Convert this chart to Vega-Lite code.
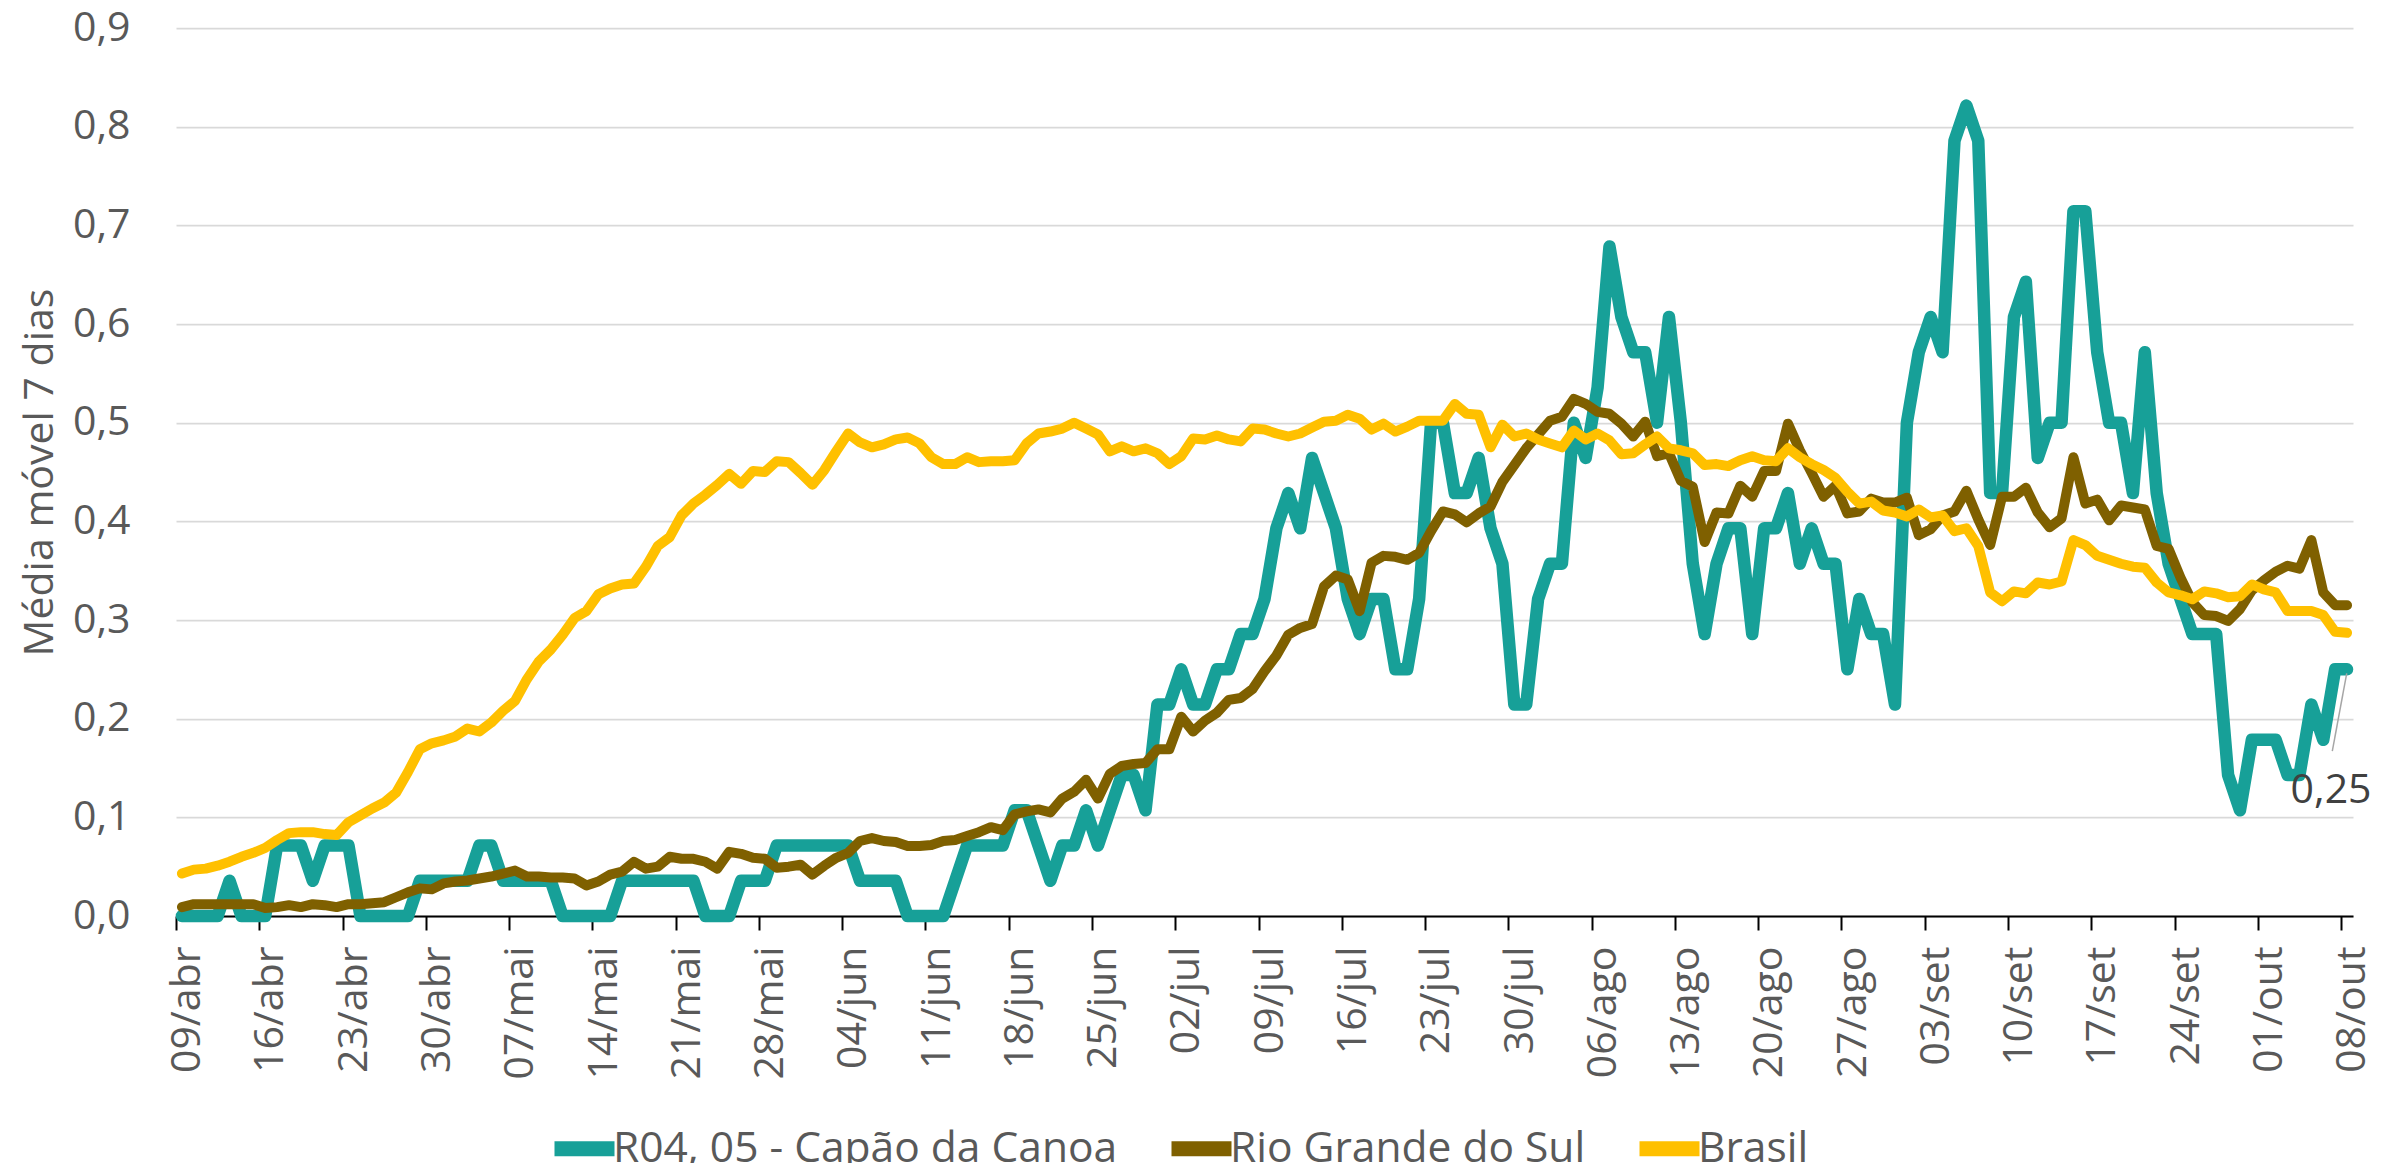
{
"$schema": "https://vega.github.io/schema/vega-lite/v6.json",
"width": 2177,
"height": 888,
"autosize": {"type": "none"},
"padding": {"left": 176, "top": 28, "right": 39, "bottom": 247},
"background": "white",
"config": {
  "view": {"stroke": null},
  "font": "Open Sans",
  "locale": {
    "number": {"decimal": ",", "thousands": ".", "grouping": [3], "currency": ["R$", ""]},
    "time": {"dateTime": "%A, %e de %B de %Y. %X", "date": "%d/%m/%Y", "time": "%H:%M:%S", "periods": ["AM", "PM"],
      "days": ["Domingo", "Segunda", "Terça", "Quarta", "Quinta", "Sexta", "Sábado"],
      "shortDays": ["Dom", "Seg", "Ter", "Qua", "Qui", "Sex", "Sáb"],
      "months": ["Janeiro", "Fevereiro", "Março", "Abril", "Maio", "Junho", "Julho", "Agosto", "Setembro", "Outubro", "Novembro", "Dezembro"],
      "shortMonths": ["jan", "fev", "mar", "abr", "mai", "jun", "jul", "ago", "set", "out", "nov", "dez"]}
  }
},
"datasets": {
"capao": [
{"d":"2020-04-09","v":0},{"d":"2020-04-10","v":0},{"d":"2020-04-11","v":0},{"d":"2020-04-12","v":0},{"d":"2020-04-13","v":0.0357},{"d":"2020-04-14","v":0},{"d":"2020-04-15","v":0},{"d":"2020-04-16","v":0},{"d":"2020-04-17","v":0.0714},{"d":"2020-04-18","v":0.0714},{"d":"2020-04-19","v":0.0714},{"d":"2020-04-20","v":0.0357},{"d":"2020-04-21","v":0.0714},{"d":"2020-04-22","v":0.0714},{"d":"2020-04-23","v":0.0714},{"d":"2020-04-24","v":0},{"d":"2020-04-25","v":0},{"d":"2020-04-26","v":0},{"d":"2020-04-27","v":0},{"d":"2020-04-28","v":0},{"d":"2020-04-29","v":0.0357},{"d":"2020-04-30","v":0.0357},
{"d":"2020-05-01","v":0.0357},{"d":"2020-05-02","v":0.0357},{"d":"2020-05-03","v":0.0357},{"d":"2020-05-04","v":0.0714},{"d":"2020-05-05","v":0.0714},{"d":"2020-05-06","v":0.0357},{"d":"2020-05-07","v":0.0357},{"d":"2020-05-08","v":0.0357},{"d":"2020-05-09","v":0.0357},{"d":"2020-05-10","v":0.0357},{"d":"2020-05-11","v":0},{"d":"2020-05-12","v":0},{"d":"2020-05-13","v":0},{"d":"2020-05-14","v":0},{"d":"2020-05-15","v":0},{"d":"2020-05-16","v":0.0357},{"d":"2020-05-17","v":0.0357},{"d":"2020-05-18","v":0.0357},{"d":"2020-05-19","v":0.0357},{"d":"2020-05-20","v":0.0357},{"d":"2020-05-21","v":0.0357},{"d":"2020-05-22","v":0.0357},{"d":"2020-05-23","v":0},{"d":"2020-05-24","v":0},{"d":"2020-05-25","v":0},{"d":"2020-05-26","v":0.0357},{"d":"2020-05-27","v":0.0357},{"d":"2020-05-28","v":0.0357},{"d":"2020-05-29","v":0.0714},{"d":"2020-05-30","v":0.0714},{"d":"2020-05-31","v":0.0714},
{"d":"2020-06-01","v":0.0714},{"d":"2020-06-02","v":0.0714},{"d":"2020-06-03","v":0.0714},{"d":"2020-06-04","v":0.0714},{"d":"2020-06-05","v":0.0357},{"d":"2020-06-06","v":0.0357},{"d":"2020-06-07","v":0.0357},{"d":"2020-06-08","v":0.0357},{"d":"2020-06-09","v":0},{"d":"2020-06-10","v":0},{"d":"2020-06-11","v":0},{"d":"2020-06-12","v":0},{"d":"2020-06-13","v":0.0357},{"d":"2020-06-14","v":0.0714},{"d":"2020-06-15","v":0.0714},{"d":"2020-06-16","v":0.0714},{"d":"2020-06-17","v":0.0714},{"d":"2020-06-18","v":0.1071},{"d":"2020-06-19","v":0.1071},{"d":"2020-06-20","v":0.0714},{"d":"2020-06-21","v":0.0357},{"d":"2020-06-22","v":0.0714},{"d":"2020-06-23","v":0.0714},{"d":"2020-06-24","v":0.1071},{"d":"2020-06-25","v":0.0714},{"d":"2020-06-26","v":0.1071},{"d":"2020-06-27","v":0.1429},{"d":"2020-06-28","v":0.1429},{"d":"2020-06-29","v":0.1071},{"d":"2020-06-30","v":0.2143},
{"d":"2020-07-01","v":0.2143},{"d":"2020-07-02","v":0.25},{"d":"2020-07-03","v":0.2143},{"d":"2020-07-04","v":0.2143},{"d":"2020-07-05","v":0.25},{"d":"2020-07-06","v":0.25},{"d":"2020-07-07","v":0.2857},{"d":"2020-07-08","v":0.2857},{"d":"2020-07-09","v":0.3214},{"d":"2020-07-10","v":0.3929},{"d":"2020-07-11","v":0.4286},{"d":"2020-07-12","v":0.3929},{"d":"2020-07-13","v":0.4643},{"d":"2020-07-14","v":0.4286},{"d":"2020-07-15","v":0.3929},{"d":"2020-07-16","v":0.3214},{"d":"2020-07-17","v":0.2857},{"d":"2020-07-18","v":0.3214},{"d":"2020-07-19","v":0.3214},{"d":"2020-07-20","v":0.25},{"d":"2020-07-21","v":0.25},{"d":"2020-07-22","v":0.3214},{"d":"2020-07-23","v":0.5},{"d":"2020-07-24","v":0.5},{"d":"2020-07-25","v":0.4286},{"d":"2020-07-26","v":0.4286},{"d":"2020-07-27","v":0.4643},{"d":"2020-07-28","v":0.3929},{"d":"2020-07-29","v":0.3571},{"d":"2020-07-30","v":0.2143},{"d":"2020-07-31","v":0.2143},
{"d":"2020-08-01","v":0.3214},{"d":"2020-08-02","v":0.3571},{"d":"2020-08-03","v":0.3571},{"d":"2020-08-04","v":0.5},{"d":"2020-08-05","v":0.4643},{"d":"2020-08-06","v":0.5357},{"d":"2020-08-07","v":0.6786},{"d":"2020-08-08","v":0.6071},{"d":"2020-08-09","v":0.5714},{"d":"2020-08-10","v":0.5714},{"d":"2020-08-11","v":0.5},{"d":"2020-08-12","v":0.6071},{"d":"2020-08-13","v":0.5},{"d":"2020-08-14","v":0.3571},{"d":"2020-08-15","v":0.2857},{"d":"2020-08-16","v":0.3571},{"d":"2020-08-17","v":0.3929},{"d":"2020-08-18","v":0.3929},{"d":"2020-08-19","v":0.2857},{"d":"2020-08-20","v":0.3929},{"d":"2020-08-21","v":0.3929},{"d":"2020-08-22","v":0.4286},{"d":"2020-08-23","v":0.3571},{"d":"2020-08-24","v":0.3929},{"d":"2020-08-25","v":0.3571},{"d":"2020-08-26","v":0.3571},{"d":"2020-08-27","v":0.25},{"d":"2020-08-28","v":0.3214},{"d":"2020-08-29","v":0.2857},{"d":"2020-08-30","v":0.2857},{"d":"2020-08-31","v":0.2143},
{"d":"2020-09-01","v":0.5},{"d":"2020-09-02","v":0.5714},{"d":"2020-09-03","v":0.6071},{"d":"2020-09-04","v":0.5714},{"d":"2020-09-05","v":0.7857},{"d":"2020-09-06","v":0.8214},{"d":"2020-09-07","v":0.7857},{"d":"2020-09-08","v":0.4286},{"d":"2020-09-09","v":0.4286},{"d":"2020-09-10","v":0.6071},{"d":"2020-09-11","v":0.6429},{"d":"2020-09-12","v":0.4643},{"d":"2020-09-13","v":0.5},{"d":"2020-09-14","v":0.5},{"d":"2020-09-15","v":0.7143},{"d":"2020-09-16","v":0.7143},{"d":"2020-09-17","v":0.5714},{"d":"2020-09-18","v":0.5},{"d":"2020-09-19","v":0.5},{"d":"2020-09-20","v":0.4286},{"d":"2020-09-21","v":0.5714},{"d":"2020-09-22","v":0.4286},{"d":"2020-09-23","v":0.3571},{"d":"2020-09-24","v":0.3214},{"d":"2020-09-25","v":0.2857},{"d":"2020-09-26","v":0.2857},{"d":"2020-09-27","v":0.2857},{"d":"2020-09-28","v":0.1429},{"d":"2020-09-29","v":0.1071},{"d":"2020-09-30","v":0.1786},
{"d":"2020-10-01","v":0.1786},{"d":"2020-10-02","v":0.1786},{"d":"2020-10-03","v":0.1429},{"d":"2020-10-04","v":0.1429},{"d":"2020-10-05","v":0.2143},{"d":"2020-10-06","v":0.1786},{"d":"2020-10-07","v":0.25},{"d":"2020-10-08","v":0.25}
],
"rs": [
{"d":"2020-04-09","v":0.009},{"d":"2020-04-10","v":0.012},{"d":"2020-04-11","v":0.012},{"d":"2020-04-12","v":0.012},{"d":"2020-04-13","v":0.012},{"d":"2020-04-14","v":0.012},{"d":"2020-04-15","v":0.012},{"d":"2020-04-16","v":0.008},{"d":"2020-04-17","v":0.009},{"d":"2020-04-18","v":0.011},{"d":"2020-04-19","v":0.009},{"d":"2020-04-20","v":0.012},{"d":"2020-04-21","v":0.011},{"d":"2020-04-22","v":0.009},{"d":"2020-04-23","v":0.012},{"d":"2020-04-24","v":0.012},{"d":"2020-04-25","v":0.013},{"d":"2020-04-26","v":0.014},{"d":"2020-04-27","v":0.019},{"d":"2020-04-28","v":0.024},{"d":"2020-04-29","v":0.028},{"d":"2020-04-30","v":0.027},
{"d":"2020-05-01","v":0.033},{"d":"2020-05-02","v":0.035},{"d":"2020-05-03","v":0.036},{"d":"2020-05-04","v":0.038},{"d":"2020-05-05","v":0.040},{"d":"2020-05-06","v":0.043},{"d":"2020-05-07","v":0.046},{"d":"2020-05-08","v":0.040},{"d":"2020-05-09","v":0.040},{"d":"2020-05-10","v":0.039},{"d":"2020-05-11","v":0.039},{"d":"2020-05-12","v":0.038},{"d":"2020-05-13","v":0.031},{"d":"2020-05-14","v":0.035},{"d":"2020-05-15","v":0.042},{"d":"2020-05-16","v":0.045},{"d":"2020-05-17","v":0.055},{"d":"2020-05-18","v":0.048},{"d":"2020-05-19","v":0.050},{"d":"2020-05-20","v":0.060},{"d":"2020-05-21","v":0.058},{"d":"2020-05-22","v":0.058},{"d":"2020-05-23","v":0.055},{"d":"2020-05-24","v":0.048},{"d":"2020-05-25","v":0.065},{"d":"2020-05-26","v":0.063},{"d":"2020-05-27","v":0.059},{"d":"2020-05-28","v":0.058},{"d":"2020-05-29","v":0.049},{"d":"2020-05-30","v":0.050},{"d":"2020-05-31","v":0.052},
{"d":"2020-06-01","v":0.042},{"d":"2020-06-02","v":0.051},{"d":"2020-06-03","v":0.059},{"d":"2020-06-04","v":0.064},{"d":"2020-06-05","v":0.076},{"d":"2020-06-06","v":0.079},{"d":"2020-06-07","v":0.076},{"d":"2020-06-08","v":0.075},{"d":"2020-06-09","v":0.071},{"d":"2020-06-10","v":0.071},{"d":"2020-06-11","v":0.072},{"d":"2020-06-12","v":0.076},{"d":"2020-06-13","v":0.077},{"d":"2020-06-14","v":0.081},{"d":"2020-06-15","v":0.085},{"d":"2020-06-16","v":0.090},{"d":"2020-06-17","v":0.087},{"d":"2020-06-18","v":0.103},{"d":"2020-06-19","v":0.106},{"d":"2020-06-20","v":0.108},{"d":"2020-06-21","v":0.105},{"d":"2020-06-22","v":0.119},{"d":"2020-06-23","v":0.126},{"d":"2020-06-24","v":0.138},{"d":"2020-06-25","v":0.119},{"d":"2020-06-26","v":0.144},{"d":"2020-06-27","v":0.152},{"d":"2020-06-28","v":0.154},{"d":"2020-06-29","v":0.155},{"d":"2020-06-30","v":0.169},
{"d":"2020-07-01","v":0.169},{"d":"2020-07-02","v":0.202},{"d":"2020-07-03","v":0.187},{"d":"2020-07-04","v":0.198},{"d":"2020-07-05","v":0.206},{"d":"2020-07-06","v":0.219},{"d":"2020-07-07","v":0.221},{"d":"2020-07-08","v":0.230},{"d":"2020-07-09","v":0.248},{"d":"2020-07-10","v":0.264},{"d":"2020-07-11","v":0.285},{"d":"2020-07-12","v":0.292},{"d":"2020-07-13","v":0.296},{"d":"2020-07-14","v":0.334},{"d":"2020-07-15","v":0.345},{"d":"2020-07-16","v":0.341},{"d":"2020-07-17","v":0.309},{"d":"2020-07-18","v":0.358},{"d":"2020-07-19","v":0.365},{"d":"2020-07-20","v":0.364},{"d":"2020-07-21","v":0.361},{"d":"2020-07-22","v":0.368},{"d":"2020-07-23","v":0.390},{"d":"2020-07-24","v":0.410},{"d":"2020-07-25","v":0.407},{"d":"2020-07-26","v":0.399},{"d":"2020-07-27","v":0.408},{"d":"2020-07-28","v":0.415},{"d":"2020-07-29","v":0.440},{"d":"2020-07-30","v":0.457},{"d":"2020-07-31","v":0.474},
{"d":"2020-08-01","v":0.488},{"d":"2020-08-02","v":0.502},{"d":"2020-08-03","v":0.506},{"d":"2020-08-04","v":0.524},{"d":"2020-08-05","v":0.519},{"d":"2020-08-06","v":0.511},{"d":"2020-08-07","v":0.509},{"d":"2020-08-08","v":0.499},{"d":"2020-08-09","v":0.486},{"d":"2020-08-10","v":0.501},{"d":"2020-08-11","v":0.466},{"d":"2020-08-12","v":0.469},{"d":"2020-08-13","v":0.441},{"d":"2020-08-14","v":0.435},{"d":"2020-08-15","v":0.379},{"d":"2020-08-16","v":0.409},{"d":"2020-08-17","v":0.408},{"d":"2020-08-18","v":0.436},{"d":"2020-08-19","v":0.425},{"d":"2020-08-20","v":0.451},{"d":"2020-08-21","v":0.451},{"d":"2020-08-22","v":0.499},{"d":"2020-08-23","v":0.472},{"d":"2020-08-24","v":0.449},{"d":"2020-08-25","v":0.425},{"d":"2020-08-26","v":0.436},{"d":"2020-08-27","v":0.408},{"d":"2020-08-28","v":0.410},{"d":"2020-08-29","v":0.423},{"d":"2020-08-30","v":0.419},{"d":"2020-08-31","v":0.419},
{"d":"2020-09-01","v":0.424},{"d":"2020-09-02","v":0.386},{"d":"2020-09-03","v":0.392},{"d":"2020-09-04","v":0.406},{"d":"2020-09-05","v":0.410},{"d":"2020-09-06","v":0.431},{"d":"2020-09-07","v":0.402},{"d":"2020-09-08","v":0.376},{"d":"2020-09-09","v":0.425},{"d":"2020-09-10","v":0.425},{"d":"2020-09-11","v":0.434},{"d":"2020-09-12","v":0.409},{"d":"2020-09-13","v":0.394},{"d":"2020-09-14","v":0.403},{"d":"2020-09-15","v":0.465},{"d":"2020-09-16","v":0.418},{"d":"2020-09-17","v":0.422},{"d":"2020-09-18","v":0.401},{"d":"2020-09-19","v":0.416},{"d":"2020-09-20","v":0.414},{"d":"2020-09-21","v":0.412},{"d":"2020-09-22","v":0.375},{"d":"2020-09-23","v":0.372},{"d":"2020-09-24","v":0.343},{"d":"2020-09-25","v":0.318},{"d":"2020-09-26","v":0.305},{"d":"2020-09-27","v":0.304},{"d":"2020-09-28","v":0.299},{"d":"2020-09-29","v":0.311},{"d":"2020-09-30","v":0.330},
{"d":"2020-10-01","v":0.340},{"d":"2020-10-02","v":0.349},{"d":"2020-10-03","v":0.355},{"d":"2020-10-04","v":0.352},{"d":"2020-10-05","v":0.381},{"d":"2020-10-06","v":0.328},{"d":"2020-10-07","v":0.315},{"d":"2020-10-08","v":0.315}
],
"br": [
{"d":"2020-04-09","v":0.043},{"d":"2020-04-10","v":0.047},{"d":"2020-04-11","v":0.048},{"d":"2020-04-12","v":0.051},{"d":"2020-04-13","v":0.055},{"d":"2020-04-14","v":0.060},{"d":"2020-04-15","v":0.064},{"d":"2020-04-16","v":0.069},{"d":"2020-04-17","v":0.077},{"d":"2020-04-18","v":0.084},{"d":"2020-04-19","v":0.085},{"d":"2020-04-20","v":0.085},{"d":"2020-04-21","v":0.083},{"d":"2020-04-22","v":0.082},{"d":"2020-04-23","v":0.095},{"d":"2020-04-24","v":0.102},{"d":"2020-04-25","v":0.109},{"d":"2020-04-26","v":0.115},{"d":"2020-04-27","v":0.125},{"d":"2020-04-28","v":0.146},{"d":"2020-04-29","v":0.169},{"d":"2020-04-30","v":0.175},
{"d":"2020-05-01","v":0.178},{"d":"2020-05-02","v":0.182},{"d":"2020-05-03","v":0.190},{"d":"2020-05-04","v":0.187},{"d":"2020-05-05","v":0.196},{"d":"2020-05-06","v":0.208},{"d":"2020-05-07","v":0.218},{"d":"2020-05-08","v":0.240},{"d":"2020-05-09","v":0.258},{"d":"2020-05-10","v":0.270},{"d":"2020-05-11","v":0.285},{"d":"2020-05-12","v":0.302},{"d":"2020-05-13","v":0.309},{"d":"2020-05-14","v":0.326},{"d":"2020-05-15","v":0.332},{"d":"2020-05-16","v":0.336},{"d":"2020-05-17","v":0.337},{"d":"2020-05-18","v":0.354},{"d":"2020-05-19","v":0.375},{"d":"2020-05-20","v":0.384},{"d":"2020-05-21","v":0.406},{"d":"2020-05-22","v":0.418},{"d":"2020-05-23","v":0.427},{"d":"2020-05-24","v":0.437},{"d":"2020-05-25","v":0.448},{"d":"2020-05-26","v":0.438},{"d":"2020-05-27","v":0.451},{"d":"2020-05-28","v":0.450},{"d":"2020-05-29","v":0.461},{"d":"2020-05-30","v":0.460},{"d":"2020-05-31","v":0.449},
{"d":"2020-06-01","v":0.437},{"d":"2020-06-02","v":0.452},{"d":"2020-06-03","v":0.471},{"d":"2020-06-04","v":0.489},{"d":"2020-06-05","v":0.480},{"d":"2020-06-06","v":0.475},{"d":"2020-06-07","v":0.478},{"d":"2020-06-08","v":0.483},{"d":"2020-06-09","v":0.485},{"d":"2020-06-10","v":0.479},{"d":"2020-06-11","v":0.465},{"d":"2020-06-12","v":0.458},{"d":"2020-06-13","v":0.458},{"d":"2020-06-14","v":0.465},{"d":"2020-06-15","v":0.460},{"d":"2020-06-16","v":0.461},{"d":"2020-06-17","v":0.461},{"d":"2020-06-18","v":0.462},{"d":"2020-06-19","v":0.479},{"d":"2020-06-20","v":0.489},{"d":"2020-06-21","v":0.491},{"d":"2020-06-22","v":0.494},{"d":"2020-06-23","v":0.500},{"d":"2020-06-24","v":0.494},{"d":"2020-06-25","v":0.488},{"d":"2020-06-26","v":0.471},{"d":"2020-06-27","v":0.476},{"d":"2020-06-28","v":0.471},{"d":"2020-06-29","v":0.474},{"d":"2020-06-30","v":0.469},
{"d":"2020-07-01","v":0.458},{"d":"2020-07-02","v":0.466},{"d":"2020-07-03","v":0.484},{"d":"2020-07-04","v":0.483},{"d":"2020-07-05","v":0.487},{"d":"2020-07-06","v":0.483},{"d":"2020-07-07","v":0.481},{"d":"2020-07-08","v":0.494},{"d":"2020-07-09","v":0.493},{"d":"2020-07-10","v":0.489},{"d":"2020-07-11","v":0.486},{"d":"2020-07-12","v":0.489},{"d":"2020-07-13","v":0.495},{"d":"2020-07-14","v":0.501},{"d":"2020-07-15","v":0.502},{"d":"2020-07-16","v":0.508},{"d":"2020-07-17","v":0.504},{"d":"2020-07-18","v":0.493},{"d":"2020-07-19","v":0.499},{"d":"2020-07-20","v":0.491},{"d":"2020-07-21","v":0.496},{"d":"2020-07-22","v":0.502},{"d":"2020-07-23","v":0.502},{"d":"2020-07-24","v":0.502},{"d":"2020-07-25","v":0.519},{"d":"2020-07-26","v":0.509},{"d":"2020-07-27","v":0.508},{"d":"2020-07-28","v":0.475},{"d":"2020-07-29","v":0.498},{"d":"2020-07-30","v":0.486},{"d":"2020-07-31","v":0.489},
{"d":"2020-08-01","v":0.483},{"d":"2020-08-02","v":0.479},{"d":"2020-08-03","v":0.475},{"d":"2020-08-04","v":0.492},{"d":"2020-08-05","v":0.483},{"d":"2020-08-06","v":0.489},{"d":"2020-08-07","v":0.482},{"d":"2020-08-08","v":0.468},{"d":"2020-08-09","v":0.469},{"d":"2020-08-10","v":0.478},{"d":"2020-08-11","v":0.486},{"d":"2020-08-12","v":0.474},{"d":"2020-08-13","v":0.472},{"d":"2020-08-14","v":0.469},{"d":"2020-08-15","v":0.457},{"d":"2020-08-16","v":0.458},{"d":"2020-08-17","v":0.456},{"d":"2020-08-18","v":0.462},{"d":"2020-08-19","v":0.466},{"d":"2020-08-20","v":0.462},{"d":"2020-08-21","v":0.461},{"d":"2020-08-22","v":0.474},{"d":"2020-08-23","v":0.465},{"d":"2020-08-24","v":0.458},{"d":"2020-08-25","v":0.452},{"d":"2020-08-26","v":0.444},{"d":"2020-08-27","v":0.430},{"d":"2020-08-28","v":0.418},{"d":"2020-08-29","v":0.420},{"d":"2020-08-30","v":0.411},{"d":"2020-08-31","v":0.409},
{"d":"2020-09-01","v":0.405},{"d":"2020-09-02","v":0.412},{"d":"2020-09-03","v":0.404},{"d":"2020-09-04","v":0.406},{"d":"2020-09-05","v":0.390},{"d":"2020-09-06","v":0.393},{"d":"2020-09-07","v":0.375},{"d":"2020-09-08","v":0.328},{"d":"2020-09-09","v":0.319},{"d":"2020-09-10","v":0.329},{"d":"2020-09-11","v":0.327},{"d":"2020-09-12","v":0.338},{"d":"2020-09-13","v":0.336},{"d":"2020-09-14","v":0.339},{"d":"2020-09-15","v":0.381},{"d":"2020-09-16","v":0.376},{"d":"2020-09-17","v":0.365},{"d":"2020-09-18","v":0.361},{"d":"2020-09-19","v":0.357},{"d":"2020-09-20","v":0.354},{"d":"2020-09-21","v":0.353},{"d":"2020-09-22","v":0.338},{"d":"2020-09-23","v":0.328},{"d":"2020-09-24","v":0.325},{"d":"2020-09-25","v":0.321},{"d":"2020-09-26","v":0.329},{"d":"2020-09-27","v":0.327},{"d":"2020-09-28","v":0.323},{"d":"2020-09-29","v":0.324},{"d":"2020-09-30","v":0.336},
{"d":"2020-10-01","v":0.331},{"d":"2020-10-02","v":0.328},{"d":"2020-10-03","v":0.309},{"d":"2020-10-04","v":0.309},{"d":"2020-10-05","v":0.309},{"d":"2020-10-06","v":0.305},{"d":"2020-10-07","v":0.288},{"d":"2020-10-08","v":0.287}
],
"leader": [{"d":"2020-10-07T23:20:00Z","v":0.246,"d2":"2020-10-06T18:15:00Z","v2":0.167}]
},
"encoding": {
  "x": {"field": "d", "type": "temporal",
    "scale": {"type": "utc", "domain": [{"year": 2020, "month": "apr", "date": 8, "hours": 12, "utc": true}, {"year": 2020, "month": "oct", "date": 8, "hours": 12, "utc": true}]},
    "axis": {
      "values": [
        {"year": 2020, "month": "apr", "date": 9, "utc": true}, {"year": 2020, "month": "apr", "date": 16, "utc": true}, {"year": 2020, "month": "apr", "date": 23, "utc": true}, {"year": 2020, "month": "apr", "date": 30, "utc": true},
        {"year": 2020, "month": "may", "date": 7, "utc": true}, {"year": 2020, "month": "may", "date": 14, "utc": true}, {"year": 2020, "month": "may", "date": 21, "utc": true}, {"year": 2020, "month": "may", "date": 28, "utc": true},
        {"year": 2020, "month": "jun", "date": 4, "utc": true}, {"year": 2020, "month": "jun", "date": 11, "utc": true}, {"year": 2020, "month": "jun", "date": 18, "utc": true}, {"year": 2020, "month": "jun", "date": 25, "utc": true},
        {"year": 2020, "month": "jul", "date": 2, "utc": true}, {"year": 2020, "month": "jul", "date": 9, "utc": true}, {"year": 2020, "month": "jul", "date": 16, "utc": true}, {"year": 2020, "month": "jul", "date": 23, "utc": true}, {"year": 2020, "month": "jul", "date": 30, "utc": true},
        {"year": 2020, "month": "aug", "date": 6, "utc": true}, {"year": 2020, "month": "aug", "date": 13, "utc": true}, {"year": 2020, "month": "aug", "date": 20, "utc": true}, {"year": 2020, "month": "aug", "date": 27, "utc": true},
        {"year": 2020, "month": "sep", "date": 3, "utc": true}, {"year": 2020, "month": "sep", "date": 10, "utc": true}, {"year": 2020, "month": "sep", "date": 17, "utc": true}, {"year": 2020, "month": "sep", "date": 24, "utc": true},
        {"year": 2020, "month": "oct", "date": 1, "utc": true}, {"year": 2020, "month": "oct", "date": 8, "utc": true}
      ],
      "format": "%d/%b",
      "title": null,
      "grid": false,
      "labelAngle": -90, "labelAlign": "right", "labelBaseline": "middle",
      "labelFont": "Open Sans", "labelFontSize": 41, "labelColor": "#595959",
      "labelPadding": 16, "labelOffset": 11.65, "tickOffset": -5.95,
      "labelOverlap": false, "labelFlush": false, "labelBound": false,
      "ticks": true, "tickSize": 14, "tickColor": "#000000", "tickWidth": 2,
      "domain": true, "domainColor": "#000000", "domainWidth": 2
    }
  },
  "y": {"field": "v", "type": "quantitative",
    "scale": {"domain": [0, 0.9], "nice": false, "zero": true},
    "axis": {
      "values": [0, 0.1, 0.2, 0.3, 0.4, 0.5, 0.6, 0.7, 0.8, 0.9],
      "format": ".1f",
      "labelFont": "Open Sans", "labelFontSize": 41, "labelColor": "#595959", "labelPadding": 46, "labelBaseline": "middle",
      "ticks": false, "domain": false,
      "grid": true, "gridColor": "#D9D9D9", "gridWidth": 1.75,
      "title": "Média móvel 7 dias", "titleFont": "Open Sans", "titleFontSize": 41, "titleFontWeight": "normal", "titleColor": "#595959",
      "titleX": -124, "titleY": 444, "titleAngle": -90, "titleBaseline": "alphabetic", "titleAlign": "center"
    }
  }
},
"layer": [
  {"data": {"name": "capao"},
   "mark": {"type": "line", "strokeWidth": 12.5, "strokeCap": "round", "strokeJoin": "round"},
   "encoding": {"color": {"datum": "R04, 05 - Capão da Canoa", "type": "nominal",
     "scale": {"domain": ["R04, 05 - Capão da Canoa", "Rio Grande do Sul", "Brasil"], "range": ["#17A098", "#7F6000", "#FFC000"]},
     "legend": {"orient": "none", "legendX": 371, "legendY": 1083, "direction": "horizontal", "title": null,
       "symbolType": "stroke", "symbolSize": 3600, "symbolStrokeWidth": 15,
       "labelFont": "Open Sans", "labelFontSize": 42.5, "labelColor": "#595959", "labelOffset": -9, "labelLimit": 2000,
       "columnPadding": 23, "padding": 0}}}},
  {"data": {"name": "rs"},
   "mark": {"type": "line", "strokeWidth": 10, "strokeCap": "round", "strokeJoin": "round"},
   "encoding": {"color": {"datum": "Rio Grande do Sul", "type": "nominal"}}},
  {"data": {"name": "br"},
   "mark": {"type": "line", "strokeWidth": 10, "strokeCap": "round", "strokeJoin": "round"},
   "encoding": {"color": {"datum": "Brasil", "type": "nominal"}}},
  {"data": {"name": "leader"},
   "mark": {"type": "rule", "color": "#A6A6A6", "strokeWidth": 1.5},
   "encoding": {"x2": {"field": "d2"}, "y2": {"field": "v2"}}},
  {"data": {"name": "capao"},
   "transform": [{"filter": "utcmonth(datum.d) == 9 && utcdate(datum.d) == 8"}],
   "mark": {"type": "text", "font": "Open Sans", "fontSize": 41, "color": "#404040", "align": "center", "baseline": "alphabetic", "dx": -16, "dy": 134},
   "encoding": {"text": {"field": "v", "type": "quantitative", "format": ".2f"}}}
]
}
